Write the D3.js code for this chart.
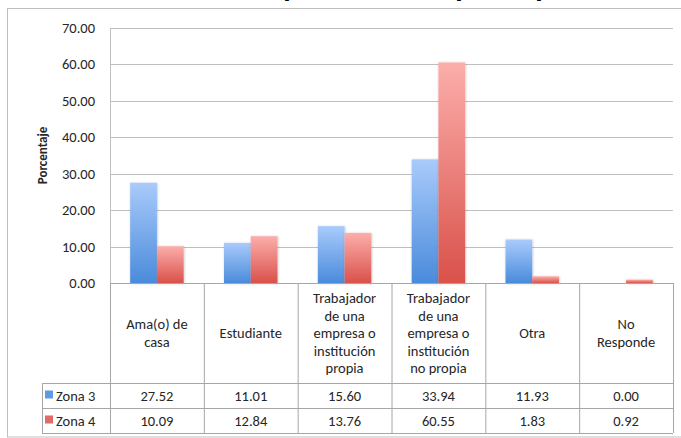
<!DOCTYPE html>
<html>
<head>
<meta charset="utf-8">
<script src="https://cdn.jsdelivr.net/npm/d3@7/dist/d3.min.js"></script>
<style>
  html, body { margin: 0; padding: 0; background: #fff; }
  svg { display: block; font-family: Carlito, Calibri, Lato, sans-serif; }
</style>
</head>
<body>
<svg id="chart" width="681" height="438"></svg>
<script>
'use strict';

// chart data
var title = 'Gráfica 4. Ocupación de los participantes';
var yLabel = 'Porcentaje';
var categories = ['Ama(o) de casa', 'Estudiante', 'Trabajador de una empresa o institución propia',
    'Trabajador de una empresa o institución no propia', 'Otra', 'No Responde'];
var categoryLines = [
    ['Ama(o) de', 'casa'],
    ['Estudiante'],
    ['Trabajador', 'de una', 'empresa o', 'institución', 'propia'],
    ['Trabajador', 'de una', 'empresa o', 'institución', 'no propia'],
    ['Otra'],
    ['No', 'Responde']
];
var seriesNames = ['Zona 3', 'Zona 4'];
var zona3 = [27.52, 11.01, 15.60, 33.94, 11.93, 0.00];
var zona4 = [10.09, 12.84, 13.76, 60.55, 1.83, 0.92];
var yTicks = [0, 10, 20, 30, 40, 50, 60, 70];

var seriesValues = [zona3, zona4];

var svg = d3.select('#chart'),
    plot = { left: 110, right: 673, top: 28, bottom: 283 },
    table = { legendLeft: 42, headerBottom: 383, rowHeight: 25 },
    fontSize = 14.5,
    textColor = '#262626',
    gridColor = '#bfbfbf',
    borderColor = '#a6a6a6';

var x = d3.scaleBand().domain(categories).range([plot.left, plot.right]);
var xInner = d3.scaleBand().domain(seriesNames).range([0, x.bandwidth()]).paddingOuter(0.755);
var y = d3.scaleLinear().domain([0, 70]).range([plot.bottom, plot.top]);

//Gradients for the bars, light on top, dark at the base
var defs = svg.append('defs');
var grads = [
    { id: 'g-zona3', top: '#a9cbfb', bottom: '#4a8bdb', flat: '#5d9be3' },
    { id: 'g-zona4', top: '#fcaeab', bottom: '#d9514a', flat: '#e06c66' }
];
grads.forEach(function (g) {
    var lg = defs.append('linearGradient').attr('id', g.id)
        .attr('x1', 0).attr('y1', 0).attr('x2', 0).attr('y2', 1);
    lg.append('stop').attr('offset', '0%').attr('stop-color', g.top);
    lg.append('stop').attr('offset', '100%').attr('stop-color', g.bottom);
});
var shadow = defs.append('filter').attr('id', 'shadow')
    .attr('x', '-20%').attr('y', '-5%').attr('width', '140%').attr('height', '110%');
shadow.append('feDropShadow').attr('dx', 0.5).attr('dy', 0.5).attr('stdDeviation', 1)
    .attr('flood-color', '#000').attr('flood-opacity', 0.25);

//Outer frame
svg.append('rect')
    .attr('x', 7.5).attr('y', 8.5)
    .attr('width', 690).attr('height', 428.5)
    .attr('fill', 'none')
    .attr('stroke', '#bfbfbf');

//Title, mostly cut off by the top of the picture as in the original
svg.append('text')
    .attr('x', 108).attr('y', -2)
    .attr('textLength', 512)
    .attr('lengthAdjust', 'spacingAndGlyphs')
    .attr('font-size', 18)
    .attr('font-weight', 'bold')
    .attr('fill', '#000')
    .text(title);

//Gridlines
svg.append('g').selectAll('line')
    .data(yTicks)
    .enter().append('line')
    .attr('x1', plot.left).attr('x2', plot.right)
    .attr('y1', d => Math.round(y(d)) + 0.5)
    .attr('y2', d => Math.round(y(d)) + 0.5)
    .attr('stroke', gridColor)
    .attr('stroke-width', 1);

//Left axis line
svg.append('line')
    .attr('x1', plot.left + 0.5).attr('x2', plot.left + 0.5)
    .attr('y1', y(70)).attr('y2', y(0))
    .attr('stroke', gridColor);

//Y tick labels
svg.append('g').selectAll('text')
    .data(yTicks)
    .enter().append('text')
    .attr('x', 95)
    .attr('y', d => y(d) + 5)
    .attr('text-anchor', 'end')
    .attr('font-size', fontSize)
    .attr('fill', textColor)
    .text(d => d.toFixed(2));

//Y axis title
svg.append('text')
    .attr('transform', 'translate(47,' + ((plot.top + plot.bottom) / 2) + ') rotate(-90)')
    .attr('text-anchor', 'middle')
    .attr('font-size', 13)
    .attr('font-weight', 'bold')
    .attr('fill', textColor)
    .text(yLabel);

//Bars
seriesNames.forEach(function (name, s) {
    svg.append('g')
        .attr('filter', 'url(#shadow)')
        .selectAll('rect')
        .data(seriesValues[s])
        .enter().append('rect')
        .attr('x', (d, i) => x(categories[i]) + xInner(name))
        .attr('width', xInner.bandwidth())
        .attr('y', d => y(d))
        .attr('height', d => y(0) - y(d))
        .attr('fill', 'url(#' + grads[s].id + ')');
});

//Data table below the chart
var tableG = svg.append('g').attr('stroke', borderColor).attr('fill', 'none');
var rowsBottom = table.headerBottom + table.rowHeight * seriesNames.length;

//Horizontal lines
tableG.append('line')
    .attr('x1', plot.left).attr('x2', plot.right)
    .attr('y1', plot.bottom + 0.5).attr('y2', plot.bottom + 0.5);
d3.range(seriesNames.length + 1).forEach(function (r) {
    var yy = table.headerBottom + r * table.rowHeight + 0.5;
    tableG.append('line')
        .attr('x1', table.legendLeft).attr('x2', plot.right)
        .attr('y1', yy).attr('y2', yy);
});

//Vertical lines
categories.concat([null]).forEach(function (c) {
    var xx = (c === null ? plot.right : x(c)) + 0.5;
    tableG.append('line')
        .attr('x1', xx).attr('x2', xx)
        .attr('y1', plot.bottom).attr('y2', rowsBottom);
});
tableG.append('line')
    .attr('x1', table.legendLeft + 0.5).attr('x2', table.legendLeft + 0.5)
    .attr('y1', table.headerBottom).attr('y2', rowsBottom);

//Category labels in the header row
var headerMid = (plot.bottom + table.headerBottom) / 2,
    lineHeight = 17.5;
categoryLines.forEach(function (lines, i) {
    var t = svg.append('text')
        .attr('text-anchor', 'middle')
        .attr('font-size', fontSize)
        .attr('fill', textColor);
    lines.forEach(function (ln, k) {
        t.append('tspan')
            .attr('x', x(categories[i]) + x.bandwidth() / 2)
            .attr('y', headerMid + 5 + (k - (lines.length - 1) / 2) * lineHeight)
            .text(ln);
    });
});

//Series rows: legend key, name and values
seriesNames.forEach(function (name, s) {
    var rowMid = table.headerBottom + s * table.rowHeight + table.rowHeight / 2;
    svg.append('rect')
        .attr('x', table.legendLeft + 3).attr('y', rowMid - 5)
        .attr('width', 8).attr('height', 8)
        .attr('fill', grads[s].flat);
    svg.append('text')
        .attr('x', table.legendLeft + 14)
        .attr('y', rowMid + 5)
        .attr('font-size', fontSize)
        .attr('fill', textColor)
        .text(name);
    svg.append('g').selectAll('text')
        .data(seriesValues[s])
        .enter().append('text')
        .attr('x', (d, i) => x(categories[i]) + x.bandwidth() / 2)
        .attr('y', rowMid + 5)
        .attr('text-anchor', 'middle')
        .attr('font-size', fontSize)
        .attr('fill', textColor)
        .text(d => d.toFixed(2));
});
</script>
</body>
</html>
